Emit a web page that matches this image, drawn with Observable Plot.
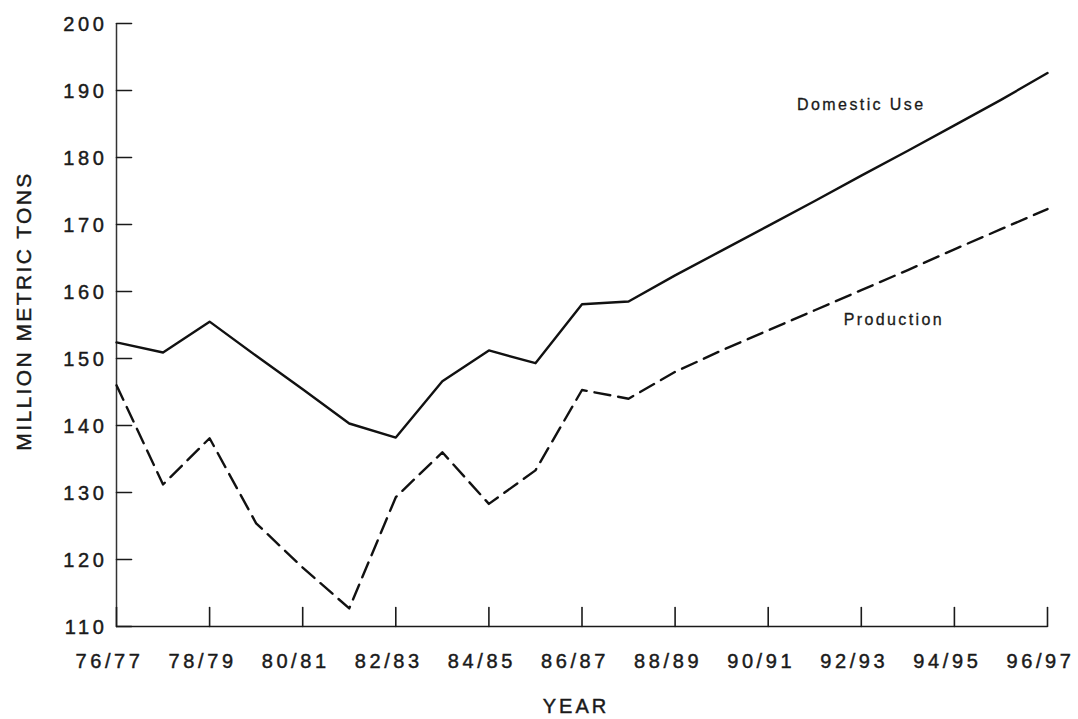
<!DOCTYPE html>
<html>
<head>
<meta charset="utf-8">
<script src="https://cdn.jsdelivr.net/npm/d3@7"></script>
<script src="https://cdn.jsdelivr.net/npm/@observablehq/plot@0.6"></script>
<style>
  body { margin: 0; background: #fff; }
  #chart svg { display: block; }
  #chart text { stroke: #1a1a1a; stroke-width: 0.45px; }
  #chart [aria-label="x-axis tick label"] { letter-spacing: 3.6px; }
  #chart [aria-label="y-axis tick label"] { letter-spacing: 3.6px; }
  #chart .axis-title { letter-spacing: 2.4px; }
  #chart .year-title { letter-spacing: 3px; }
  #chart .series-label { letter-spacing: 2.4px; }
  #chart .series-label text { stroke-width: 0.3px; }
</style>
</head>
<body>
<div id="chart"></div>
<script>
// Marketing years, by the calendar year in which each season starts
const years = [1976, 1977, 1978, 1979, 1980, 1981, 1982, 1983, 1984, 1985, 1986,
               1987, 1988, 1989, 1990, 1991, 1992, 1993, 1994, 1995, 1996];
const seasonLabels = ["76/77", "77/78", "78/79", "79/80", "80/81", "81/82", "82/83",
                      "83/84", "84/85", "85/86", "86/87", "87/88", "88/89", "89/90",
                      "90/91", "91/92", "92/93", "93/94", "94/95", "95/96", "96/97"];

// Million metric tons
const domesticUse = [152.4, 150.9, 155.5, 150.4, 145.4, 140.3, 138.2, 146.6, 151.2, 149.3,
                     158.1, 158.5, 162.4, 166.1, 169.8, 173.5, 177.3, 181.0, 184.8, 188.6, 192.6];
const production  = [146.0, 131.2, 138.1, 125.4, 118.8, 112.7, 129.3, 136.0, 128.3, 133.3,
                     145.3, 144.0, 148.0, 151.2, 154.2, 157.2, 160.2, 163.2, 166.3, 169.3, 172.3];

const xTicks = [1976, 1978, 1980, 1982, 1984, 1986, 1988, 1990, 1992, 1994, 1996];
const yTicks = [110, 120, 130, 140, 150, 160, 170, 180, 190, 200];

const xDomain = [1976, 1996];
const yDomain = [110, 200];

const rows = years.map((year, i) => ({year, domestic: domesticUse[i], production: production[i]}));

// A plain straight tick drawn from the anchor point along the vector direction
const tickShape = {draw(context, l) { context.moveTo(0, 0); context.lineTo(0, -l); }};

const chart = Plot.plot({
  width: 1078,
  height: 719,
  marginLeft: 116,
  marginRight: 31,
  marginTop: 23,
  marginBottom: 93,
  style: {fontFamily: "'Liberation Sans', Arial, sans-serif", fontSize: "20px", color: "#1a1a1a", background: "#fff"},
  x: {domain: xDomain, label: null},
  y: {domain: yDomain, label: null},
  marks: [
    Plot.axisX({ticks: xTicks, tickFormat: d => seasonLabels[years.indexOf(d)], tickSize: 0, tickPadding: 27, dx: -7, label: null}),
    Plot.axisY({ticks: yTicks, tickSize: 0, tickPadding: 9, dy: 1, label: null}),
    // axis lines
    Plot.ruleY([yDomain[0]], {stroke: "#1a1a1a", strokeWidth: 1.7}),
    Plot.ruleX([xDomain[0]], {stroke: "#333", strokeWidth: 1.5}),
    // inward ticks
    Plot.vector(xTicks, {x: d => d, frameAnchor: "bottom", rotate: 0, length: 19, anchor: "start", shape: tickShape, stroke: "#1a1a1a", strokeWidth: 1.6}),
    Plot.vector(yTicks, {y: d => d, frameAnchor: "left", rotate: 90, length: 15, anchor: "start", shape: tickShape, stroke: "#1a1a1a", strokeWidth: 1.6}),
    // series
    Plot.line(rows, {x: "year", y: "domestic", stroke: "#111", strokeWidth: 2.4}),
    Plot.line(rows, {x: "year", y: "production", stroke: "#111", strokeWidth: 2.4, strokeDasharray: "16 8"}),
    // series labels
    Plot.text(["Domestic Use"], {x: 1992.0, y: 187.9, text: d => d, fontSize: 16, fill: "#1a1a1a", className: "series-label"}),
    Plot.text(["Production"], {x: 1992.7, y: 155.7, text: d => d, fontSize: 16, fill: "#1a1a1a", className: "series-label"}),
    // axis titles
    Plot.text(["MILLION METRIC TONS"], {frameAnchor: "left", textAnchor: "middle", text: d => d, rotate: -90, dx: -92, dy: -14, fontSize: 21, fill: "#1a1a1a", className: "axis-title"}),
    Plot.text(["YEAR"], {frameAnchor: "bottom", text: d => d, dy: 86, dx: -6, fontSize: 20, fill: "#1a1a1a", className: "year-title"})
  ]
});

document.getElementById("chart").appendChild(chart);
</script>
</body>
</html>
